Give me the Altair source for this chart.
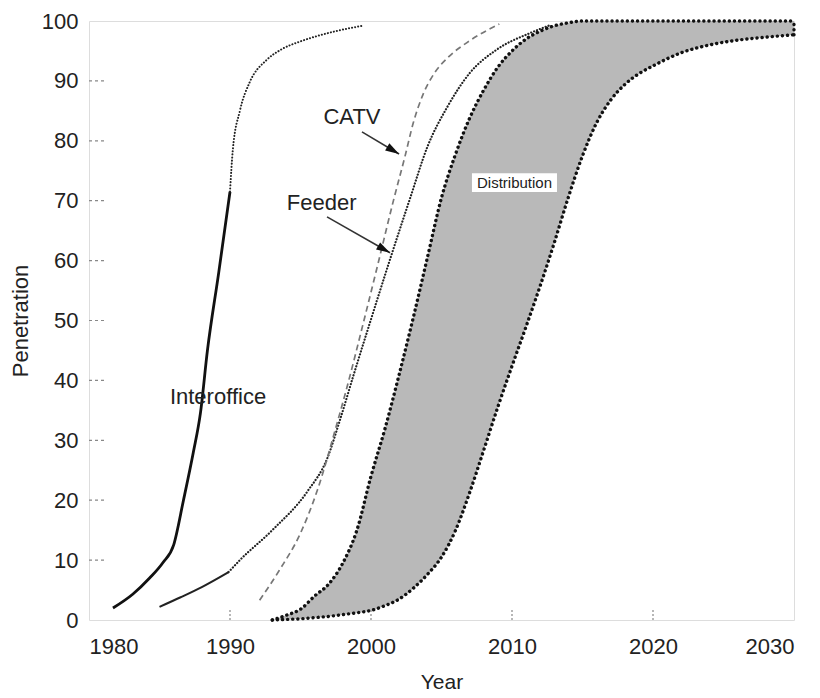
import altair as alt
import pandas as pd

# ---------------- data ----------------
inter_solid_year = [1981.7, 1983.1, 1984.3, 1985.25, 1986.0, 1986.7, 1987.4, 1987.9, 1988.4, 1989.2, 1990.0]
inter_solid_val = [2.0, 4.3, 7.0, 9.6, 12.5, 20.0, 28.0, 34.5, 45.0, 58.0, 71.5]
inter_dot_year = [1990.0, 1990.2, 1990.7, 1991.4, 1992.6, 1993.6, 1995.0, 1996.2, 1997.5, 1999.4]
inter_dot_val = [71.5, 78.5, 85.0, 89.8, 93.5, 95.2, 96.6, 97.5, 98.3, 99.2]

feeder_solid_year = [1985.0, 1986.5, 1988.0, 1989.9]
feeder_solid_val = [2.2, 3.8, 5.5, 8.0]
feeder_dot_year = [1989.9, 1990.7, 1993.0, 1995.5, 1996.9, 1997.8, 1998.7, 2000.0, 2001.5,
                   2002.8, 2004.0, 2005.4, 2007.0, 2008.9, 2011.3, 2012.7]
feeder_dot_val = [8.0, 10.0, 15.0, 21.5, 27.0, 33.4, 40.4, 50.2, 61.3,
                  70.6, 79.0, 85.6, 91.3, 95.2, 98.0, 99.3]

catv_year = [1992.1, 1993.5, 1995.0, 1996.2, 1997.6, 1998.3, 1999.5, 2000.5, 2001.6,
             2002.4, 2003.0, 2003.7, 2004.5, 2005.5, 2007.0, 2009.1]
catv_val = [3.3, 8.3, 14.5, 21.7, 32.9, 38.9, 50.0, 59.5, 70.1,
            77.3, 83.0, 87.8, 91.3, 94.0, 96.7, 99.5]

dist_year = [1993, 1994, 1995, 1996, 1997, 1998, 1999, 2000, 2001, 2002, 2003, 2004, 2005,
             2006, 2007, 2008, 2009, 2010, 2011, 2012, 2013, 2014, 2015, 2016, 2017, 2018,
             2019, 2020, 2022, 2024, 2026, 2028, 2030]
dist_upper = [0.0, 0.8, 1.8, 4.0, 6.0, 9.5, 15.0, 24.0, 32.0, 41.0, 50.5, 60.5, 70.5,
              77.8, 83.8, 88.5, 92.3, 95.0, 97.0, 98.3, 99.2, 99.7, 100, 100, 100, 100,
              100, 100, 100, 100, 100, 100, 100]
dist_lower = [0.0, 0.1, 0.2, 0.4, 0.6, 0.9, 1.2, 1.6, 2.4, 3.5, 5.3, 7.6, 10.5,
              15.0, 21.3, 28.4, 35.6, 42.4, 49.0, 55.8, 63.0, 70.6, 77.5, 83.0, 86.8, 89.4,
              91.2, 92.5, 94.7, 96.0, 96.8, 97.3, 97.7]
dist_edge_year = [2030, 2030]
dist_edge_val = [97.7, 100]

x_ticks = [1980, 1990, 2000, 2010, 2020, 2030]
y_ticks = [0, 10, 20, 30, 40, 50, 60, 70, 80, 90, 100]
inner_y_ticks = [10, 20, 30, 40, 50, 60, 70, 80, 90]
inner_x_ticks = [1990, 2000, 2010, 2020]

label_text = ["CATV", "Feeder", "Interoffice"]
label_year = [1998.65, 1996.5, 1989.15]
label_val = [84.0, 69.6, 37.2]

dist_label = ["Distribution"]
dist_label_year = [2010.18]
dist_label_val = [73.0]
dist_box_year = [2007.16]
dist_box_year2 = [2013.19]
dist_box_val = [74.6]
dist_box_val2 = [71.45]

arrow_name = ["CATV", "Feeder"]
arrow_x0 = [1999.36, 1996.88]
arrow_y0 = [81.5, 67.3]
arrow_x1 = [2001.99, 2001.35]
arrow_y1 = [77.8, 61.3]
arrow_angle = [120.9, 119.7]

# ---------------- chart ----------------
W, H = 705, 599
FONT = "Liberation Sans"

xs = alt.Scale(domain=[1980, 2030], nice=False, zero=False)
ys = alt.Scale(domain=[0, 100], nice=False)

X_AXIS = alt.Axis(values=x_ticks, format="d", ticks=False, domain=False, grid=False,
                  labelFontSize=22, labelFont=FONT, labelColor="#222", labelPadding=16,
                  titleFontSize=21, titleFont=FONT, titleFontWeight="normal",
                  titleColor="#222", titlePadding=14)
Y_AXIS = alt.Axis(values=y_ticks, ticks=False, domain=False, grid=False,
                  labelFontSize=22, labelFont=FONT, labelColor="#222", labelPadding=11,
                  titleFontSize=22, titleFont=FONT, titleFontWeight="normal",
                  titleColor="#222", titlePadding=9)


def df(xv, yv):
    return pd.DataFrame({"year": xv, "val": yv})


def X(field="year"):
    return alt.X(f"{field}:Q", scale=xs, axis=X_AXIS, title="Year")


def Y(field="val"):
    return alt.Y(f"{field}:Q", scale=ys, axis=Y_AXIS, title="Penetration")


dist_df = pd.DataFrame({"year": dist_year, "up": dist_upper, "lo": dist_lower})
area = alt.Chart(dist_df).mark_area(color="#b9b9b9", opacity=1, interpolate="monotone").encode(
    x=X(), y=Y("up"), y2="lo:Q")

dot_big = dict(color="#111", strokeWidth=3.4, strokeDash=[0.1, 5], strokeCap="round", interpolate="monotone")
dist_up_line = alt.Chart(df(dist_year, dist_upper)).mark_line(**dot_big).encode(x=X(), y=Y())
dist_lo_line = alt.Chart(df(dist_year, dist_lower)).mark_line(**dot_big).encode(x=X(), y=Y())
dist_edge = alt.Chart(df(dist_edge_year, dist_edge_val)).mark_line(**dot_big).encode(x=X(), y=Y())

inter_solid = alt.Chart(df(inter_solid_year, inter_solid_val)).mark_line(
    color="#111", strokeWidth=2.8, interpolate="monotone").encode(x=X(), y=Y())
inter_dot = alt.Chart(df(inter_dot_year, inter_dot_val)).mark_line(
    color="#222", strokeWidth=2.0, strokeDash=[0.1, 3], strokeCap="round", interpolate="monotone").encode(x=X(), y=Y())
feeder_solid = alt.Chart(df(feeder_solid_year, feeder_solid_val)).mark_line(
    color="#222", strokeWidth=2.0, interpolate="monotone").encode(x=X(), y=Y())
feeder_dot = alt.Chart(df(feeder_dot_year, feeder_dot_val)).mark_line(
    color="#222", strokeWidth=2.2, strokeDash=[0.1, 3], strokeCap="round", interpolate="monotone").encode(x=X(), y=Y())
catv = alt.Chart(df(catv_year, catv_val)).mark_line(
    color="#777", strokeWidth=1.7, strokeDash=[6, 4], interpolate="monotone").encode(x=X(), y=Y())

ytick_rules = alt.Chart(pd.DataFrame({"val": inner_y_ticks})).mark_rule(
    color="#888", strokeWidth=1.2, strokeDash=[3, 3]).encode(
    y=Y(), x=alt.value(0), x2=alt.value(17))
xtick_rules = alt.Chart(pd.DataFrame({"year": inner_x_ticks})).mark_rule(
    color="#888", strokeWidth=1.2, strokeDash=[2, 2]).encode(
    x=X(), y=alt.value(H), y2=alt.value(H - 10))

labels = alt.Chart(pd.DataFrame({"t": label_text, "year": label_year, "val": label_val})).mark_text(
    font=FONT, fontSize=22, color="#222", align="center", baseline="middle").encode(
    x=X(), y=Y(), text="t:N")

box = alt.Chart(pd.DataFrame({"x": dist_box_year, "x2": dist_box_year2, "y": dist_box_val, "y2": dist_box_val2})).mark_rect(
    color="white").encode(x=X("x"), x2="x2:Q", y=Y("y"), y2="y2:Q")
dist_text = alt.Chart(pd.DataFrame({"t": dist_label, "year": dist_label_year, "val": dist_label_val})).mark_text(
    font=FONT, fontSize=15, color="#222", align="center", baseline="middle").encode(
    x=X(), y=Y(), text="t:N")

arrow_df = pd.DataFrame({"n": arrow_name, "x0": arrow_x0, "y0": arrow_y0,
                         "x1": arrow_x1, "y1": arrow_y1, "a": arrow_angle})
arrow_lines = alt.Chart(arrow_df).mark_rule(color="#333", strokeWidth=1.6).encode(
    x=X("x0"), y=Y("y0"), x2="x1:Q", y2="y1:Q")
arrow_heads = alt.Chart(arrow_df).mark_point(
    shape="M0,0 L0.6,2 L-0.6,2 Z", filled=True, color="#111", opacity=1, size=190).encode(
    x=X("x1"), y=Y("y1"), angle=alt.Angle("a:Q", scale=None))

chart = alt.layer(
    area, dist_up_line, dist_lo_line, dist_edge,
    inter_solid, inter_dot, feeder_solid, feeder_dot, catv,
    ytick_rules, xtick_rules, labels, box, dist_text, arrow_lines, arrow_heads,
).properties(
    width=W, height=H, padding={"left": 1, "top": 2, "right": 0, "bottom": 0}
).configure_view(
    stroke="#555", strokeWidth=1.5
).configure(background="white")

chart.save("out.html", embed_options={"renderer": "svg", "actions": False})
